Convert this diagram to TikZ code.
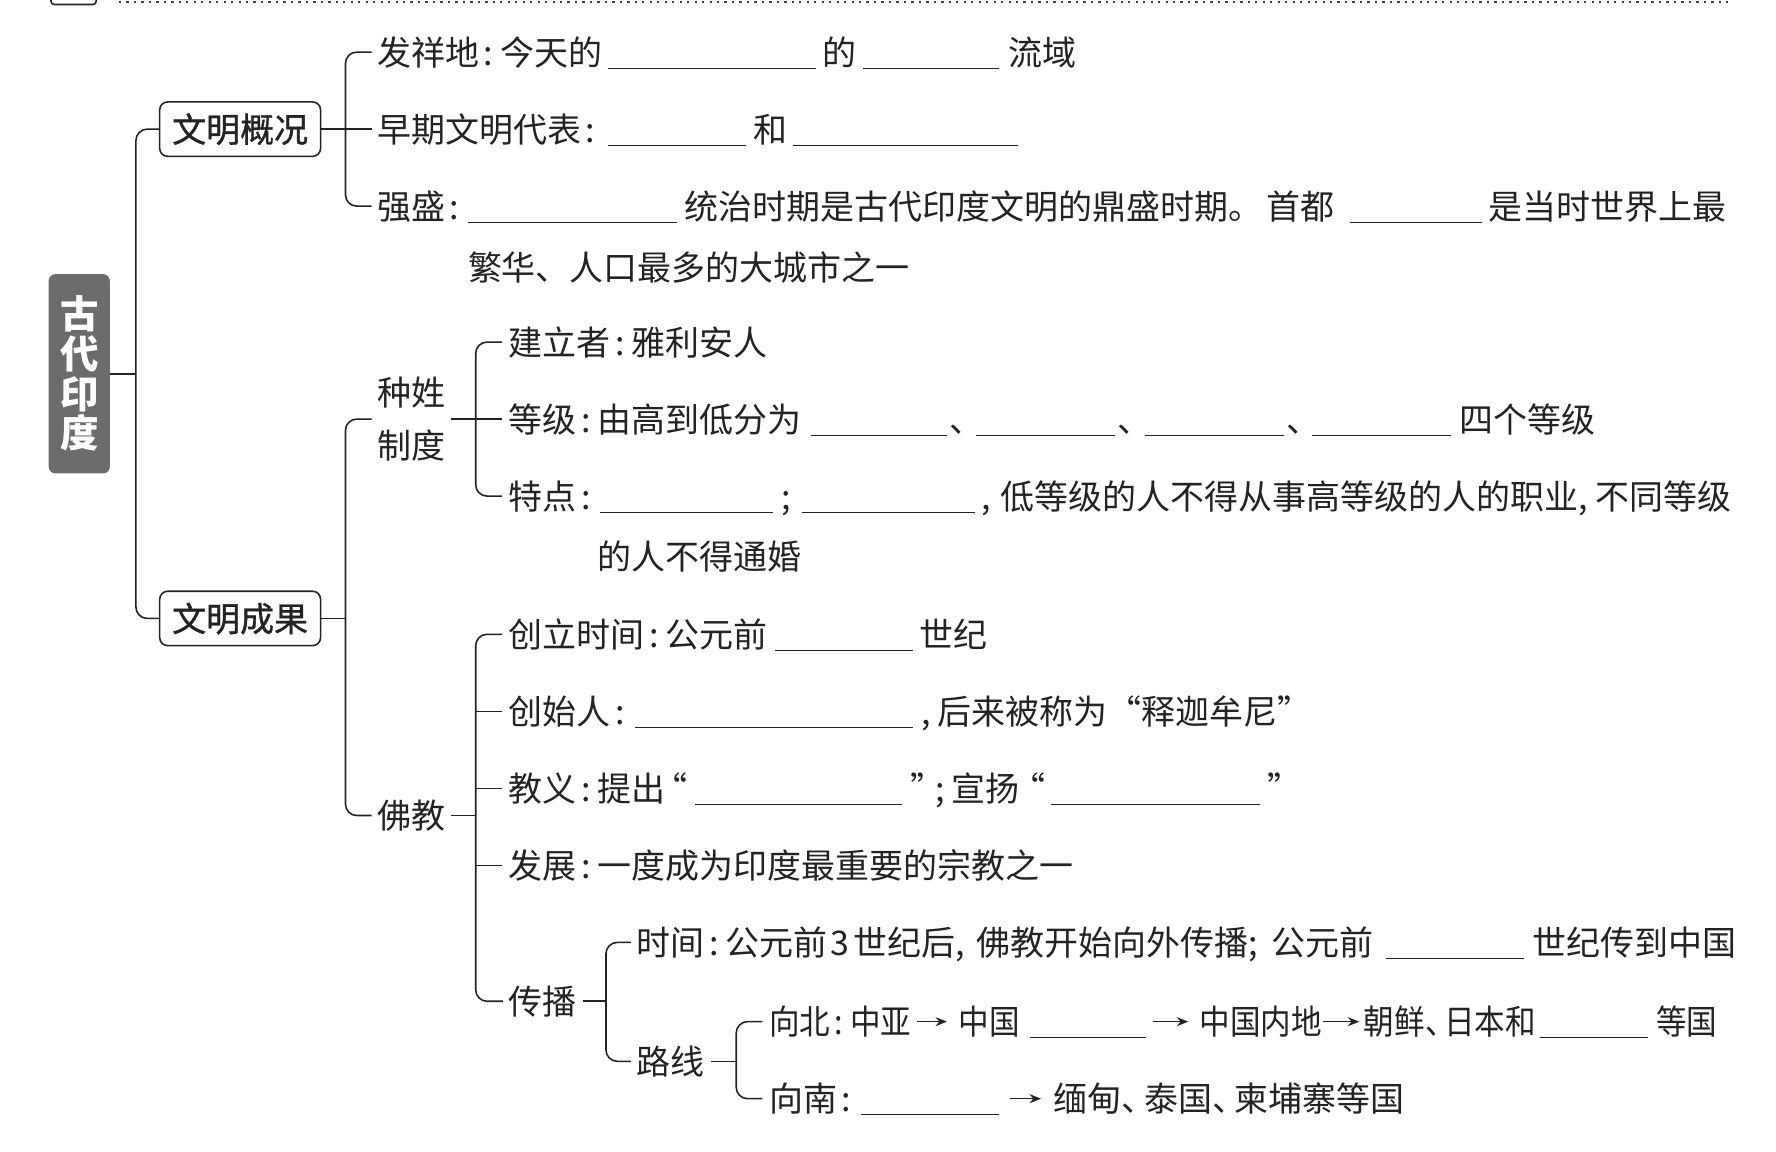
\documentclass[tikz,border=0pt]{standalone}
\usepackage{fontspec}
\setmainfont{Noto Sans CJK SC}
\newfontfamily\cjkc{Noto Sans CJK SC}[FakeStretch=0.9]
\newfontfamily\cjkm{Noto Sans CJK SC}[FakeBold=1]
\usetikzlibrary{arrows.meta}
\definecolor{ink}{RGB}{35,35,35}
\definecolor{rootgray}{RGB}{108,108,108}
\newcommand\cl{\kern4pt:\kern6pt}
\newcommand\dn{、\kern-10pt}
\tikzset{
  ln/.style={draw=ink, line width=1.4pt},
  rc/.style={rounded corners=10pt},
  tx/.style={anchor=west, inner sep=0pt, text height=25.5pt, text depth=2.5pt, text=ink},
  leaf/.style={tx, inner xsep=5pt},
  ul/.style={draw=ink, line width=1.1pt},
  fillin/.style={anchor=west, inner sep=0pt, minimum height=28pt, minimum width=#1,
    append after command={(\tikzlastnode.south west) edge[ul] (\tikzlastnode.south east)}},
  arr/.style={draw=ink, line width=1.3pt, -{Stealth[length=10pt,width=8pt]}},
  catbox/.style={draw=ink, line width=1.4pt, rounded corners=7pt, minimum width=142pt,
    minimum height=48pt, inner sep=0pt, text=ink, text height=25.5pt, text depth=2.5pt,
    font=\fontsize{30}{36}\cjkm},
  rootbox/.style={fill=rootgray, rounded corners=6pt, minimum width=54pt, minimum height=176pt,
    inner sep=0pt, text=white, align=center, font=\fontsize{34}{35}\selectfont\bfseries},
}
\begin{document}
\begin{tikzpicture}[x=1pt,y=-1pt,font=\fontsize{30}{36}\selectfont]
\useasboundingbox (0,0) rectangle (1568,1017);
% top decoration
\draw[ink!85, line width=1.6pt, dash pattern=on 2pt off 4.6pt] (105,2) -- (1530,2);
\draw[ln, rounded corners=3pt] (45,0) -- (45,4) -- (85,4) -- (85,0);

% root and categories
\node[rootbox] (root) at (70,330) {古\\代\\印\\度};
\node[catbox] (b1) at (212,114) {文明概况};
\node[catbox] (b2) at (212,546) {文明成果};
\coordinate (t0) at (120,330);
\draw[ln] (root.east) -- (t0);
\draw[ln,rc] (b1.west) -| (t0) |- (b2.west);

% branch 1
\node[leaf] (l11) at (328,46) {发祥地\cl 今天的};
\node[fillin=183pt] (l11a) at (537,46) {};
\node[tx] (l11b) at (726,46) {的};
\node[fillin=120pt] (l11c) at (762,46) {};
\node[tx] (l11d) at (890,46) {流域};

\node[leaf] (l12) at (328,114) {早期文明代表\cl};
\node[fillin=121pt] (l12a) at (537,114) {};
\node[tx] (l12b) at (665,114) {和};
\node[fillin=198pt] (l12c) at (700,114) {};

\node[leaf] (l13) at (328,182) {强盛\cl};
\node[fillin=184pt] (l13a) at (413,182) {};
\node[tx] (l13b) at (604,182) {统治时期是古代印度文明的鼎盛时期。};
\node[tx] (l13f) at (1118,182) {首都};
\node[fillin=116pt] (l13c) at (1192,182) {};
\node[tx] (l13d) at (1314,182) {是当时世界上最};
\node[tx] (l13e) at (413,236) {繁华、人口最多的大城市之一};

\coordinate (t1) at (305,114);
\draw[ln] (b1.east) -- (t1);
\draw[ln,rc] (l11.west) -| (t1) |- (l13.west);
\draw[ln] (t1) -- (l12.west);

% branch 2
\node[anchor=west, inner xsep=5pt, inner ysep=0pt, align=left, text=ink,
  font=\fontsize{30}{46}\selectfont] (zx) at (328,370) {种姓\\制度};
\node[leaf] (fj) at (328,720) {佛教};
\coordinate (t2) at (305,546);
\draw[ln] (b2.east) -- (t2);
\draw[ln,rc] (zx.west) -| (t2) |- (fj.west);

% caste system
\node[leaf, inner xsep=6pt] (z1) at (443,302) {建立者\cl 雅利安人};
\node[leaf, inner xsep=6pt] (z2) at (443,370) {等级\cl 由高到低分为};
\node[fillin=120pt] (z2a) at (716,370) {};
\node[tx] (z2b) at (838,370) {、};
\node[fillin=122pt] (z2c) at (862,370) {};
\node[tx] (z2d) at (986,370) {、};
\node[fillin=122pt] (z2e) at (1011,370) {};
\node[tx] (z2f) at (1136,370) {、};
\node[fillin=123pt] (z2g) at (1158,370) {};
\node[tx] (z2h) at (1288,370) {四个等级};
\node[leaf, inner xsep=6pt] (z3) at (443,438) {特点\cl};
\node[fillin=152pt] (z3a) at (530,438) {};
\node[tx] (z3b) at (690,438) {;};
\node[fillin=152pt] (z3c) at (708,438) {};
\node[tx] (z3d) at (866,438) {,\kern9pt 低等级的人不得从事高等级的人的职业,\kern7pt 不同等级};
\node[tx] (z3e) at (527,491) {的人不得通婚};
\coordinate (t3) at (420,370);
\draw[ln] (zx.east) -- (t3);
\draw[ln,rc] (z1.west) -| (t3) |- (z3.west);
\draw[ln] (t3) -- (z2.west);

% buddhism
\node[leaf, inner xsep=6pt] (f1) at (443,560) {创立时间\cl 公元前};
\node[fillin=122pt] (f1a) at (684,560) {};
\node[tx] (f1b) at (812,560) {世纪};
\node[leaf, inner xsep=6pt] (f2) at (443,628) {创始人\cl};
\node[fillin=245pt] (f2a) at (561,628) {};
\node[tx] (f2b) at (813,628) {,\kern6pt 后来被称为“释迦牟尼”};
\node[leaf, inner xsep=6pt] (f3) at (443,696) {教义\cl 提出};
\node[tx, anchor=east] (f3a) at (607,696) {“};
\node[fillin=182pt] (f3b) at (614,696) {};
\node[tx] (f3c) at (804,696) {”};
\node[tx] (f3d) at (826,696) {;};
\node[tx] (f3e) at (840,696) {宣扬};
\node[tx, anchor=east] (f3f) at (923,696) {“};
\node[fillin=184pt] (f3g) at (928,696) {};
\node[tx] (f3h) at (1119,696) {”};
\node[leaf, inner xsep=6pt] (f4) at (443,764) {发展\cl 一度成为印度最重要的宗教之一};
\node[leaf] (f5) at (444,884) {传播};
\coordinate (t4) at (420,720);
\draw[ln] (fj.east) -- (t4);
\draw[ln,rc] (f1.west) -| (t4) |- (f5.west);
\draw[ln] (f2.west -| t4) -- (f2.west);
\draw[ln] (f3.west -| t4) -- (f3.west);
\draw[ln] (f4.west -| t4) -- (f4.west);

% spread
\node[leaf] (g1) at (557,832) {时间\cl 公元前\kern3pt 3\kern3pt 世纪后,\kern11pt 佛教开始向外传播;\kern12pt 公元前};
\node[fillin=121pt] (g1a) at (1224,832) {};
\node[tx] (g1b) at (1353,832) {世纪传到中国};
\node[leaf] (g2) at (557,937) {路线};
\coordinate (t5) at (535,884);
\draw[ln] (f5.east) -- (t5);
\draw[ln,rc] (g1.west) -| (t5) |- (g2.west);

% routes
\node[leaf, inner xsep=6pt] (h1) at (673,902) {\cjkc 向北\cl 中亚};
\node[tx] (h1b) at (846,902) {\cjkc 中国};
\node[fillin=102pt] (h1c) at (909,902) {};
\node[tx] (h1d) at (1059,902) {\cjkc 中国内地};
\node[tx] (h1e) at (1204,902) {\cjkc 朝鲜\dn 日本和};
\node[fillin=95pt] (h1f) at (1360,902) {};
\node[tx] (h1g) at (1462,902) {\cjkc 等国};
\draw[arr] ([xshift=-36pt]h1b.west) -- ([xshift=-10pt]h1b.west);
\draw[arr] ([xshift=-41pt]h1d.west) -- ([xshift=-10pt]h1d.west);
\draw[arr] ([xshift=-36pt]h1e.west) -- ([xshift=-4pt]h1e.west);

\node[leaf, inner xsep=6pt] (h2) at (673,970) {向南\cl};
\node[fillin=122pt] (h2a) at (760,970) {};
\node[tx] (h2b) at (930,970) {缅甸\dn 泰国\dn 柬埔寨等国};
\draw[arr] ([xshift=-38pt]h2b.west) -- ([xshift=-11pt]h2b.west);

\coordinate (t6) at (650,937);
\draw[ln] (g2.east) -- (t6);
\draw[ln,rc] (h1.west) -| (t6) |- (h2.west);
\end{tikzpicture}
\end{document}
